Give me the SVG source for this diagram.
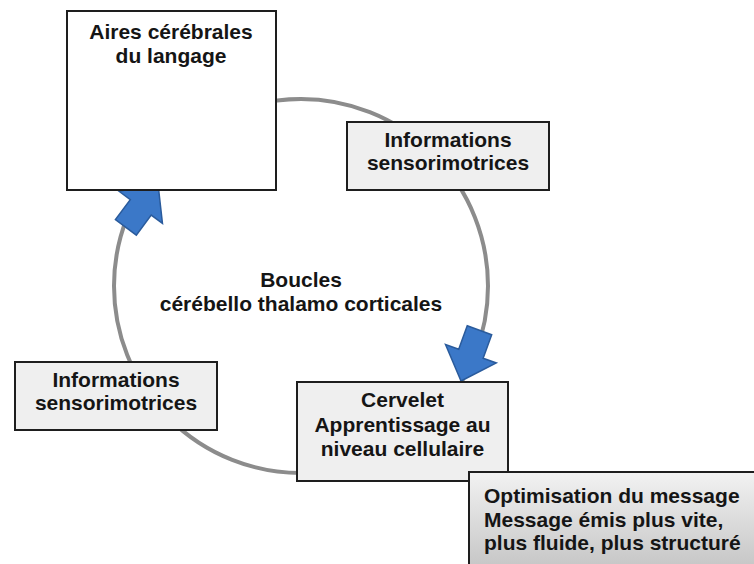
<svg xmlns="http://www.w3.org/2000/svg" width="754" height="564" viewBox="0 0 754 564">
<defs>
<style>
.box{stroke:#1e1e1e;stroke-width:2}
.white{fill:#ffffff}
.grey{fill:#efefef}
.t{font-family:"Liberation Sans",Arial,sans-serif;font-weight:bold;font-size:21px;fill:#151515}
.c{text-anchor:middle}
.arrow{fill:#3b78c8;stroke:#2a5b9c;stroke-width:1.5;stroke-linejoin:miter}
.loop{fill:none;stroke:#8c8c8c;stroke-width:4}
</style>
<linearGradient id="optGrad" x1="0" y1="0" x2="0" y2="1">
<stop offset="0" stop-color="#f2f2f2"/>
<stop offset="1" stop-color="#c4c4c4"/>
</linearGradient>
<path id="blockArrow" d="M0,0 L-29,-27 L-29,-13 L-54,-13 L-54,13 L-29,13 L-29,27 Z"/>
</defs>
<rect width="754" height="564" fill="#ffffff"/>
<g id="connectors">
<circle class="loop" cx="301" cy="286" r="187"/>
<use href="#blockArrow" class="arrow" transform="translate(158,184) rotate(-53.5)"/>
<use href="#blockArrow" class="arrow" transform="translate(461,381) rotate(110)"/>
</g>
<g id="center-label">
<text class="t c" x="301" y="287">Boucles</text>
<text class="t c" x="301" y="311">cérébello thalamo corticales</text>
</g>
<g id="aires">
<rect class="box white" x="67" y="11" width="209" height="179"/>
<text class="t c" x="171" y="39">Aires cérébrales</text>
<text class="t c" x="171" y="63">du langage</text>
</g>
<g id="info-top">
<rect class="box grey" x="347" y="122" width="202" height="68"/>
<text class="t c" x="448" y="147">Informations</text>
<text class="t c" x="448" y="170">sensorimotrices</text>
</g>
<g id="info-left">
<rect class="box grey" x="15" y="362" width="202" height="68"/>
<text class="t c" x="116" y="387">Informations</text>
<text class="t c" x="116" y="410">sensorimotrices</text>
</g>
<g id="cervelet">
<rect class="box grey" x="297" y="382" width="211" height="99"/>
<text class="t c" x="402.5" y="407">Cervelet</text>
<text class="t c" x="402.5" y="432">Apprentissage au</text>
<text class="t c" x="402.5" y="456">niveau cellulaire</text>
</g>
<g id="optimisation">
<rect class="box" x="469" y="472" width="290" height="100" fill="url(#optGrad)"/>
<text class="t" x="484" y="503">Optimisation du message</text>
<text class="t" x="484" y="527">Message émis plus vite,</text>
<text class="t" x="484" y="550">plus fluide, plus structuré</text>
</g>
</svg>
